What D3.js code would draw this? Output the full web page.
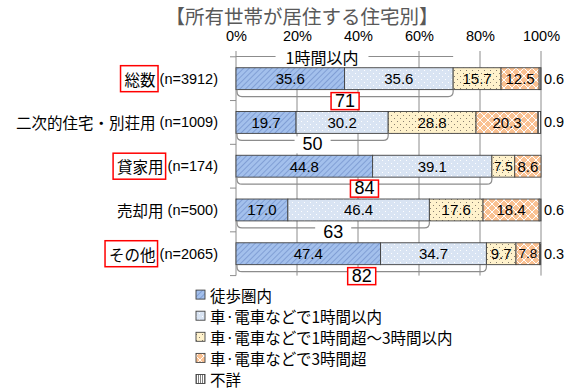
<!DOCTYPE html>
<html><head><meta charset="utf-8">
<script src="https://cdn.jsdelivr.net/npm/d3@7"></script>
<style>
html,body{margin:0;padding:0;background:#fff;}
svg{display:block;font-family:"Noto Sans CJK JP","Noto Sans",sans-serif;}
</style></head>
<body><svg id="c" width="574" height="392"></svg>
<script>
const categories = ["総数","二次的住宅・別荘用","貸家用","売却用","その他"];
const nLabels = ["(n=3912)","(n=1009)","(n=174)","(n=500)","(n=2065)"];
const highlighted = [true,false,true,false,true];
const walk = [35.6,19.7,44.8,17.0,47.4];
const within1h = [35.6,30.2,39.1,46.4,34.7];
const h1to3 = [15.7,28.8,7.5,17.6,9.7];
const over3 = [12.5,20.3,8.6,18.4,7.8];
const unknown = [0.6,0.9,0.0,0.6,0.3];
const totals1h = [71,50,84,63,82];
const seriesNames = ["徒歩圏内","車·電車などで1時間以内","車·電車などで1時間超～3時間以内","車·電車などで3時間超","不詳"];
const tickValues = [0,20,40,60,80,100];
const title = "【所有世帯が居住する住宅別】";
const topBracketLabel = "1時間以内";

const seriesData = [walk, within1h, h1to3, over3, unknown];
const svg = d3.select("#c");
const defs = svg.append("defs");

function pat(id, w, h, fill, draw, tr){
  const p = defs.append("pattern").attr("id",id).attr("patternUnits","userSpaceOnUse").attr("width",w).attr("height",h);
  if(tr) p.attr("patternTransform",tr);
  p.append("rect").attr("width",w).attr("height",h).attr("fill",fill);
  draw(p);
}
pat("p0",4,4,"#a3c0ec",p=>{p.append("line").attr("x1",0).attr("y1",0).attr("x2",0).attr("y2",4).attr("stroke","#7897cf").attr("stroke-width",1.6);},"rotate(45)");
pat("p1",6,6,"#d9e4f3",p=>{p.append("rect").attr("x",1).attr("y",1).attr("width",1).attr("height",1).attr("fill","#fff");p.append("rect").attr("x",4).attr("y",4).attr("width",1).attr("height",1).attr("fill","#fff");});
pat("p2",6,6,"#fff2cc",p=>{p.append("rect").attr("x",1).attr("y",1).attr("width",1).attr("height",1).attr("fill","#8a8070");p.append("rect").attr("x",4).attr("y",4).attr("width",1).attr("height",1).attr("fill","#8a8070");});
pat("p3",8,8,"#fac192",p=>{p.append("path").attr("d","M0,0L8,8M8,0L0,8").attr("stroke","#fff").attr("stroke-width",1);});
pat("p4",2,4,"#ffffff",p=>{p.append("rect").attr("width",1).attr("height",4).attr("fill","#7f7f7f");});
const fills = ["url(#p0)","url(#p1)","url(#p2)","url(#p3)","url(#p4)"];

const x = d3.scaleLinear().domain([0,100]).range([236,541]);
const y = d3.scaleBand().domain(categories).range([56.8,275.6]).paddingInner(0.5).paddingOuter(0.25);

// title
svg.append("text").attr("x",302).attr("y",15).attr("text-anchor","middle").attr("dominant-baseline","central")
  .attr("font-size",19.5).attr("fill","#595959").text(title);

// top axis labels
const xAxis = d3.axisTop(x).tickValues(tickValues).tickFormat(d=>d+"%").tickSize(0).tickPadding(0);
const ax = svg.append("g").attr("transform","translate(0,36)").call(xAxis);
ax.select(".domain").remove();
ax.selectAll("text").attr("font-size",14.5).attr("fill","#000").attr("dy",null)
  .attr("dominant-baseline","central").attr("font-family","'Liberation Sans',sans-serif");

// gridlines
svg.append("g").selectAll("line").data(tickValues.slice(1)).join("line")
  .attr("x1",d=>x(d)).attr("x2",d=>x(d)).attr("y1",51).attr("y2",275.6)
  .attr("stroke","#8c8c8c").attr("stroke-width",1);

// left axis with ticks at band boundaries
const yr = y.range();
svg.append("line").attr("x1",x(0)).attr("x2",x(0)).attr("y1",51).attr("y2",yr[1]).attr("stroke","#8c8c8c");
const half = (y.step()-y.bandwidth())/2;
const bounds = categories.map(c=>y(c)-half).concat([yr[1]]);
svg.append("g").selectAll("line").data(bounds).join("line")
  .attr("x1",x(0)-6).attr("x2",x(0)).attr("y1",d=>d).attr("y2",d=>d).attr("stroke","#8c8c8c");

// top bracket line
const topEnd = x(walk[0]+within1h[0]);
const topY = 56.5;
const topMid = x(28.2);
svg.append("line").attr("x1",x(0)).attr("x2",topEnd).attr("y1",topY).attr("y2",topY).attr("stroke","#8c8c8c").attr("stroke-width",1.2);
const tbg = svg.append("rect").attr("fill","#fff");
const tl = svg.append("text").attr("x",topMid).attr("y",topY).attr("text-anchor","middle").attr("dominant-baseline","central")
  .attr("font-size",16).attr("fill","#000").text(topBracketLabel);
const tb = tl.node().getBBox();
tbg.attr("x",tb.x-10).attr("y",tb.y).attr("width",tb.width+20).attr("height",tb.height);

// stacked bars
const rows = categories.map((c,i)=>{
  let acc=0;
  return seriesData.map((s,k)=>{const v=s[i]; const o={cat:c,k,v,x0:acc,x1:acc+v}; acc+=v; return o;});
});
const gBars = svg.append("g");
rows.forEach((segs,i)=>{
  gBars.selectAll(null).data(segs.filter(d=>d.v>0)).join("rect")
    .attr("x",d=>x(d.x0)).attr("width",d=>x(d.x1)-x(d.x0))
    .attr("y",y(categories[i])).attr("height",y.bandwidth())
    .attr("fill",d=>fills[d.k]).attr("stroke","#404040").attr("stroke-width",0.9);
  gBars.selectAll(null).data(segs.filter(d=>d.k<4)).join("text")
    .attr("x",d=>x((d.x0+d.x1)/2)).attr("y",y(categories[i])+y.bandwidth()/2)
    .attr("text-anchor","middle").attr("dominant-baseline","central")
    .attr("font-size",d=>(x(d.x1)-x(d.x0))<26?13.5:15).attr("fill","#000").attr("font-family","'Liberation Sans',sans-serif")
    .text(d=>d.v.toFixed(1));
  if(unknown[i]>0){
    gBars.append("text").attr("x",x(100)+3).attr("y",y(categories[i])+y.bandwidth()/2)
      .attr("dominant-baseline","central").attr("font-size",14.5).attr("fill","#000")
      .attr("font-family","'Liberation Sans',sans-serif").text(unknown[i].toFixed(1));
  }
});

// brackets below bars
categories.forEach((c,i)=>{
  const yb = y(c)+y.bandwidth();
  const x0 = x(0)+1, x1 = x(walk[i]+within1h[i]);
  const d = 7, r = 5;
  svg.append("path").attr("d",`M${x0},${yb} L${x0},${yb+d-r} Q${x0},${yb+d} ${x0+r},${yb+d} L${x1-r},${yb+d} Q${x1},${yb+d} ${x1},${yb+d-r} L${x1},${yb}`)
    .attr("fill","none").attr("stroke","#8c8c8c").attr("stroke-width",1.2);
  const mx = (x0+x1)/2, my = yb+11;
  const bg = svg.append("rect");
  const t = svg.append("text").attr("x",mx).attr("y",my).attr("text-anchor","middle").attr("dominant-baseline","central")
    .attr("font-size",18).attr("fill","#000").attr("font-family","'Liberation Sans',sans-serif").text(totals1h[i]);
  const bb = t.node().getBBox();
  const pad = highlighted[i]?4:8;
  bg.attr("x",bb.x-pad).attr("y",my-8).attr("width",bb.width+pad*2).attr("height",17)
    .attr("fill","#fff").attr("stroke",highlighted[i]?"#ff0000":"none").attr("stroke-width",1.5);
});

// category labels
categories.forEach((c,i)=>{
  const cy = y(c)+y.bandwidth()/2;
  const nt = svg.append("text").attr("x",218).attr("y",cy).attr("text-anchor","end").attr("dominant-baseline","central")
    .attr("font-size",14.5).attr("fill","#000").attr("font-family","'Liberation Sans',sans-serif").text(nLabels[i]);
  const nw = nt.node().getComputedTextLength();
  const ct = svg.append("text").attr("x",218-nw-4).attr("y",cy).attr("text-anchor","end").attr("dominant-baseline","central")
    .attr("font-size",15.5).attr("fill","#000").text(c);
  if(highlighted[i]){
    const b = ct.node().getBBox();
    svg.append("rect").attr("x",b.x-4).attr("y",cy-13).attr("width",b.width+6).attr("height",26)
      .attr("fill","none").attr("stroke","#ff0000").attr("stroke-width",1.5);
  }
});

// legend
const lg = svg.append("g");
seriesNames.forEach((s,k)=>{
  const ly = 294.6 + k*21.1;
  lg.append("rect").attr("x",196).attr("y",ly-4.5).attr("width",9).attr("height",9)
    .attr("fill",fills[k]).attr("stroke","#404040").attr("stroke-width",0.9);
  lg.append("text").attr("x",210).attr("y",ly).attr("dominant-baseline","central")
    .attr("font-size",15.5).attr("fill","#000").text(s);
});
</script></body></html>
